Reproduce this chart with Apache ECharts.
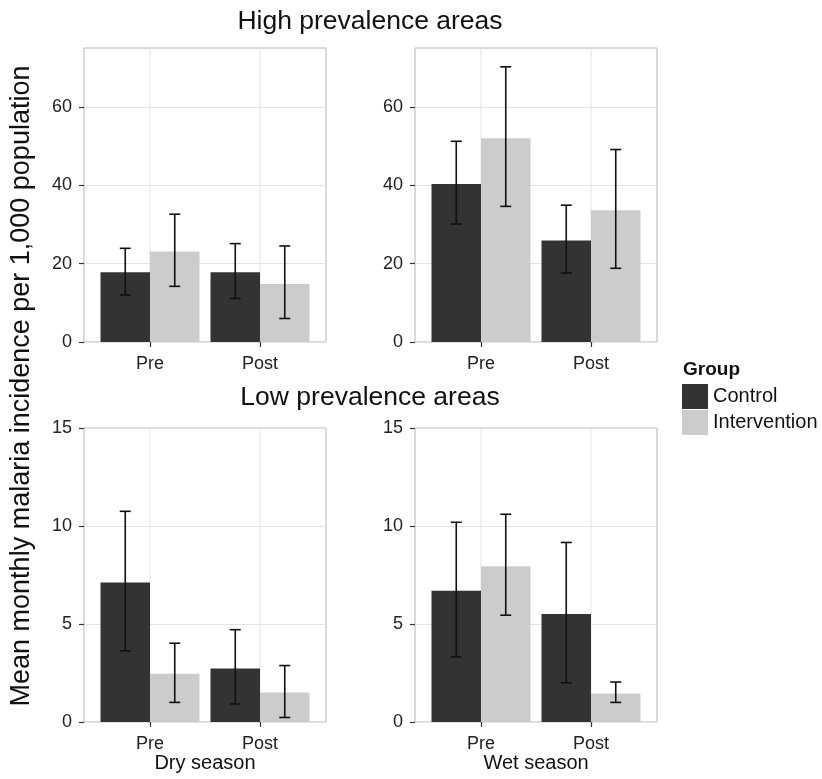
<!DOCTYPE html>
<html>
<head>
<meta charset="utf-8">
<script src="https://cdn.jsdelivr.net/npm/echarts@6/dist/echarts.min.js"></script>
<style>
html, body { margin: 0; padding: 0; background: #fff; }
#chart { width: 822px; height: 779px; }
</style>
</head>
<body>
<div id="chart"></div>
<script>
const groups = ['Control', 'Intervention']
const periods = ['Pre', 'Post']
const panelTitles = ['High prevalence areas', 'Low prevalence areas']
const seasons = ['Dry season', 'Wet season']
const highTicks = [0, 20, 40, 60]
const lowTicks = [0, 5, 10, 15]

// means per period [Pre, Post]
const highDryControl = [17.8, 17.8]
const highDryIntervention = [23.1, 14.8]
const highWetControl = [40.3, 25.9]
const highWetIntervention = [52.0, 33.6]
const lowDryControl = [7.12, 2.73]
const lowDryIntervention = [2.46, 1.51]
const lowWetControl = [6.70, 5.51]
const lowWetIntervention = [7.95, 1.46]

// error bars [low, high] per period
const highDryControlErr = [[12.0, 23.9], [11.1, 25.1]]
const highDryInterventionErr = [[14.2, 32.6], [6.0, 24.5]]
const highWetControlErr = [[30.1, 51.2], [17.6, 34.9]]
const highWetInterventionErr = [[34.6, 70.2], [18.8, 49.1]]
const lowDryControlErr = [[3.63, 10.75], [0.92, 4.71]]
const lowDryInterventionErr = [[1.0, 4.02], [0.23, 2.88]]
const lowWetControlErr = [[3.32, 10.19], [2.0, 9.16]]
const lowWetInterventionErr = [[5.45, 10.6], [1.0, 2.04]]

const colors = ['#333333', '#cccccc']

const panels = [
  { data: [highDryControl, highDryIntervention], err: [highDryControlErr, highDryInterventionErr], ticks: highTicks, max: 75, step: 10, left: 84, top: 48, name: '' },
  { data: [highWetControl, highWetIntervention], err: [highWetControlErr, highWetInterventionErr], ticks: highTicks, max: 75, step: 10, left: 415, top: 48, name: '' },
  { data: [lowDryControl, lowDryIntervention], err: [lowDryControlErr, lowDryInterventionErr], ticks: lowTicks, max: 15, step: 2.5, left: 84, top: 428, name: seasons[0] },
  { data: [lowWetControl, lowWetIntervention], err: [lowWetControlErr, lowWetInterventionErr], ticks: lowTicks, max: 15, step: 2.5, left: 415, top: 428, name: seasons[1] }
]

const font = 'Liberation Sans, Arial, sans-serif'

// ggplot 风格误差线
function errorBar (offset) {
  return function (params, api) {
    const x = api.value(0) + offset
    const lo = api.coord([x, api.value(1)])
    const hi = api.coord([x, api.value(2)])
    const half = api.size([0.1, 0])[0] / 2
    const style = { stroke: '#111', lineWidth: 1.6 }
    return {
      type: 'group',
      children: [
        { type: 'line', shape: { x1: lo[0], y1: lo[1], x2: hi[0], y2: hi[1] }, style },
        { type: 'line', shape: { x1: lo[0] - half, y1: lo[1], x2: lo[0] + half, y2: lo[1] }, style },
        { type: 'line', shape: { x1: hi[0] - half, y1: hi[1], x2: hi[0] + half, y2: hi[1] }, style }
      ]
    }
  }
}

// 竖直网格线 (类别中心)
function vGrid (params, api) {
  const p = api.coord([api.value(0), 0])
  const cs = params.coordSys
  return {
    type: 'line',
    shape: { x1: p[0], y1: cs.y, x2: p[0], y2: cs.y + cs.height },
    style: { stroke: '#e3e3e3', lineWidth: 1 }
  }
}

const grid = []
const xAxis = []
const yAxis = []
const series = []

panels.forEach((pn, k) => {
  grid.push({
    left: pn.left, top: pn.top, width: 242, height: 294,
    show: true, borderColor: '#b5b5b5', borderWidth: 1, backgroundColor: '#fff'
  })
  xAxis.push({
    type: 'value', gridIndex: k, min: 0.4, max: 2.6,
    axisLine: { show: false },
    axisTick: { show: true, length: 5, customValues: [1, 2], lineStyle: { color: '#333', width: 1.2 } },
    axisLabel: {
      customValues: [1, 2], margin: 13, fontSize: 18, color: '#222', fontFamily: font,
      formatter: v => periods[Math.round(v) - 1]
    },
    splitLine: { show: false },
    name: pn.name, nameLocation: 'middle', nameGap: 26,
    nameTextStyle: { fontSize: 20, color: '#111', fontFamily: font }
  })
  yAxis.push({
    type: 'value', gridIndex: k, min: 0, max: pn.max, interval: pn.step,
    axisLine: { show: false },
    axisTick: { show: true, length: 5, customValues: pn.ticks, lineStyle: { color: '#333', width: 1.2 } },
    axisLabel: { customValues: pn.ticks, margin: 12, fontSize: 18, color: '#222', fontFamily: font },
    splitLine: { show: true, lineStyle: { color: '#e3e3e3', width: 1 } }
  })
  series.push({
    type: 'custom', xAxisIndex: k, yAxisIndex: k, z: 1, silent: true,
    renderItem: vGrid, encode: { x: 0, y: 1 },
    data: periods.map((p, i) => [i + 1, 0])
  })
  groups.forEach((g, j) => {
    series.push({
      name: g, type: 'bar', xAxisIndex: k, yAxisIndex: k, z: 2,
      barWidth: '45%', barGap: '0%',
      itemStyle: { color: colors[j] },
      data: periods.map((p, i) => [i + 1, pn.data[j][i]])
    })
  })
  groups.forEach((g, j) => {
    series.push({
      type: 'custom', xAxisIndex: k, yAxisIndex: k, z: 3, silent: true,
      renderItem: errorBar(j === 0 ? -0.225 : 0.225),
      encode: { x: 0, y: [1, 2] },
      data: periods.map((p, i) => [i + 1, pn.err[j][i][0], pn.err[j][i][1]])
    })
  })
})

const chart = echarts.init(document.getElementById('chart'))
chart.setOption({
  animation: false,
  backgroundColor: '#fff',
  grid,
  xAxis,
  yAxis,
  series,
  legend: {
    data: groups, orient: 'vertical', left: 677, top: 379,
    icon: 'rect', itemWidth: 26, itemHeight: 25, itemGap: 1,
    selectedMode: false,
    textStyle: { fontSize: 20, color: '#111', fontFamily: font }
  },
  graphic: [
    { type: 'text', x: 370, y: 22, style: { text: panelTitles[0], fontSize: 26.5, fill: '#111', fontFamily: font, textAlign: 'center', textVerticalAlign: 'middle' } },
    { type: 'text', x: 370, y: 398, style: { text: panelTitles[1], fontSize: 26.5, fill: '#111', fontFamily: font, textAlign: 'center', textVerticalAlign: 'middle' } },
    { type: 'text', x: 683, y: 370, style: { text: 'Group', fontSize: 19, fontWeight: 'bold', fill: '#111', fontFamily: font, textAlign: 'left', textVerticalAlign: 'middle' } },
    { type: 'text', x: 22, y: 386, rotation: Math.PI / 2, style: { text: 'Mean monthly malaria incidence per 1,000 population', fontSize: 27, fill: '#111', fontFamily: font, textAlign: 'center', textVerticalAlign: 'middle' } }
  ]
})
</script>
</body>
</html>
